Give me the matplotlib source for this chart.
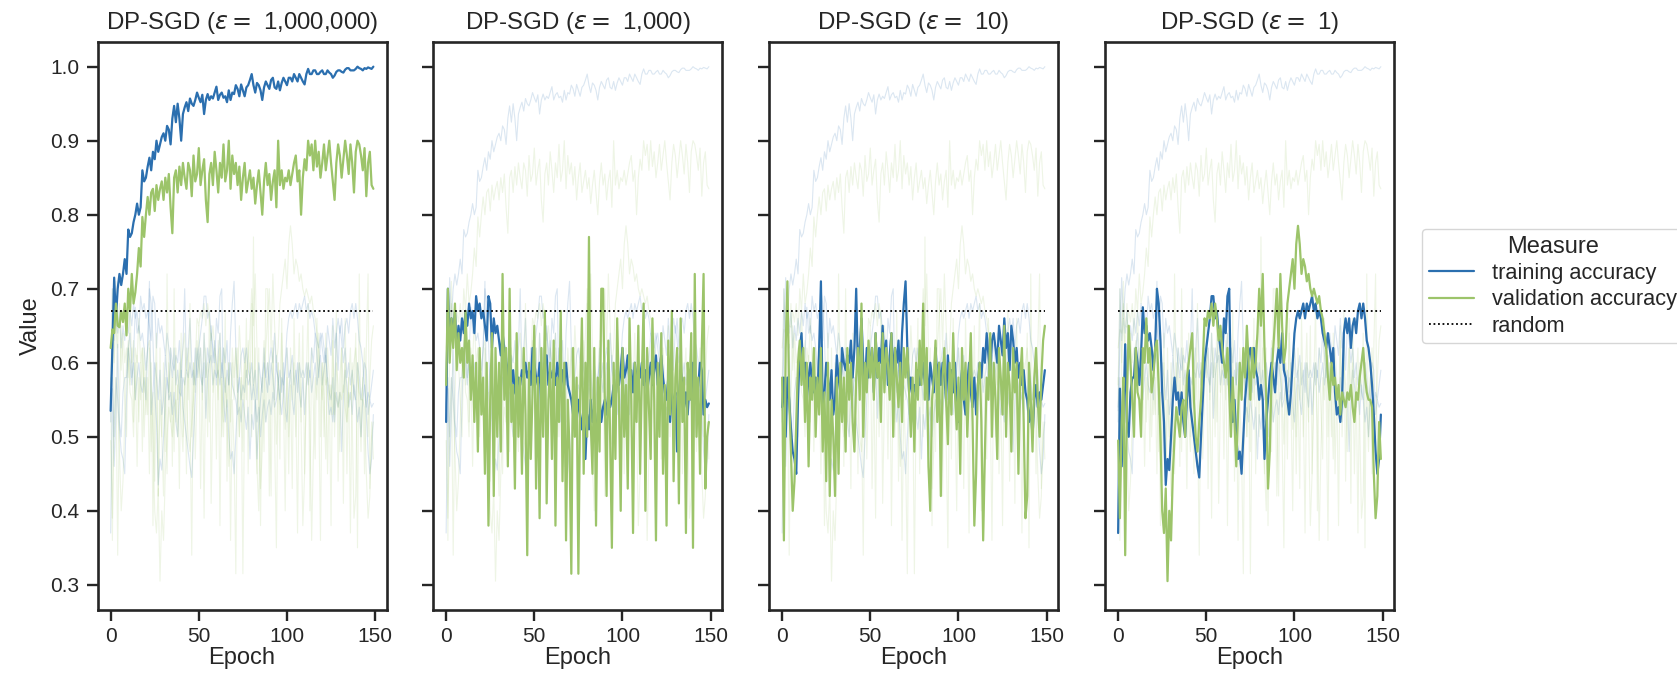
import numpy as np
import matplotlib
matplotlib.use("Agg")
import matplotlib.pyplot as plt
import seaborn as sns
from matplotlib.lines import Line2D

# ============================
# Data
# ============================
epsilons = ["1,000,000", "1,000", "10", "1"]
random_level = 0.67

train_1e6 = [
    0.535, 0.62, 0.715, 0.66, 0.70, 0.72, 0.705, 0.72, 0.74, 0.72,
    0.78, 0.77, 0.775, 0.79, 0.80, 0.815, 0.80, 0.81, 0.86, 0.845,
    0.85, 0.865, 0.877, 0.86, 0.885, 0.875, 0.90, 0.885, 0.895, 0.905,
    0.91, 0.90, 0.92, 0.915, 0.895, 0.93, 0.947, 0.925, 0.95, 0.93,
    0.90, 0.936, 0.945, 0.952, 0.94, 0.957, 0.95, 0.947, 0.955, 0.965,
    0.958, 0.952, 0.962, 0.936, 0.955, 0.963, 0.955, 0.96, 0.957, 0.965,
    0.973, 0.955, 0.962, 0.965, 0.958, 0.96, 0.952, 0.968, 0.955, 0.965,
    0.963, 0.975, 0.97, 0.96, 0.976, 0.968, 0.96, 0.972, 0.975, 0.982,
    0.99, 0.975, 0.965, 0.978, 0.975, 0.968, 0.955, 0.972, 0.98, 0.975,
    0.97, 0.982, 0.985, 0.972, 0.97, 0.98, 0.968, 0.978, 0.985, 0.98,
    0.975, 0.985, 0.985, 0.98, 0.99, 0.985, 0.98, 0.99, 0.985, 0.98,
    0.976, 0.99, 0.997, 0.99, 0.99, 0.995, 0.995, 0.99, 0.99, 0.993,
    0.995, 0.99, 0.99, 0.995, 0.992, 0.99, 0.985, 0.988, 0.993, 0.995,
    0.995, 0.993, 0.992, 0.996, 0.998, 0.998, 0.995, 0.995, 0.995, 0.997,
    1.0, 0.998, 0.997, 0.995, 0.998, 0.997, 0.999, 0.998, 0.997, 1.0,
]
val_1e6 = [
    0.62, 0.645, 0.64, 0.68, 0.65, 0.648, 0.67, 0.655, 0.68, 0.637,
    0.70, 0.67, 0.72, 0.68, 0.695, 0.72, 0.755, 0.73, 0.797, 0.77,
    0.80, 0.824, 0.80, 0.83, 0.835, 0.805, 0.84, 0.82, 0.835, 0.845,
    0.82, 0.85, 0.83, 0.855, 0.81, 0.775, 0.85, 0.86, 0.83, 0.865,
    0.84, 0.87, 0.85, 0.835, 0.87, 0.86, 0.825, 0.88, 0.845, 0.855,
    0.89, 0.84, 0.86, 0.875, 0.82, 0.79, 0.855, 0.87, 0.84, 0.885,
    0.86, 0.83, 0.87, 0.85, 0.895, 0.845, 0.86, 0.90, 0.835, 0.88,
    0.855, 0.87, 0.84, 0.865, 0.82, 0.85, 0.87, 0.83, 0.845, 0.86,
    0.835, 0.85, 0.815, 0.84, 0.86, 0.83, 0.80, 0.845, 0.87, 0.84,
    0.855, 0.82, 0.845, 0.86, 0.81, 0.90, 0.84, 0.86, 0.835, 0.85,
    0.845, 0.86, 0.84, 0.855, 0.87, 0.88, 0.845, 0.86, 0.80, 0.85,
    0.875, 0.86, 0.90, 0.88, 0.895, 0.86, 0.90, 0.865, 0.885, 0.85,
    0.87, 0.895, 0.86, 0.88, 0.90, 0.87, 0.845, 0.82, 0.87, 0.895,
    0.88, 0.85, 0.875, 0.90, 0.88, 0.855, 0.895, 0.87, 0.83, 0.885,
    0.90, 0.895, 0.88, 0.86, 0.89, 0.825, 0.87, 0.885, 0.84, 0.835,
]
train_1000 = [
    0.52, 0.70, 0.63, 0.66, 0.64, 0.67, 0.62, 0.65, 0.63, 0.66,
    0.64, 0.67, 0.65, 0.68, 0.66, 0.67, 0.64, 0.69, 0.67, 0.68,
    0.66, 0.67, 0.65, 0.63, 0.69, 0.68, 0.62, 0.66, 0.64, 0.65,
    0.63, 0.61, 0.64, 0.62, 0.60, 0.58, 0.62, 0.57, 0.59, 0.56,
    0.555, 0.58, 0.57, 0.59, 0.58, 0.60, 0.58, 0.59, 0.57, 0.62,
    0.60, 0.58, 0.57, 0.60, 0.525, 0.58, 0.60, 0.61, 0.57, 0.59,
    0.58, 0.59, 0.57, 0.60, 0.58, 0.56, 0.59, 0.57, 0.60, 0.57,
    0.56, 0.55, 0.53, 0.54, 0.52, 0.55, 0.53, 0.51, 0.54, 0.47,
    0.53, 0.51, 0.55, 0.52, 0.54, 0.50, 0.53, 0.55, 0.52, 0.54,
    0.55, 0.53, 0.56, 0.54, 0.55, 0.57, 0.55, 0.58, 0.57, 0.59,
    0.62, 0.58, 0.59, 0.61, 0.57, 0.59, 0.56, 0.60, 0.58, 0.59,
    0.58, 0.60, 0.57, 0.59, 0.56, 0.58, 0.60, 0.57, 0.59, 0.61,
    0.57, 0.59, 0.61, 0.58, 0.56, 0.55, 0.58, 0.52, 0.56, 0.54,
    0.56, 0.48, 0.55, 0.59, 0.57, 0.54, 0.56, 0.53, 0.57, 0.55,
    0.60, 0.58, 0.55, 0.57, 0.60, 0.59, 0.53, 0.55, 0.54, 0.545,
]
val_1000 = [
    0.57, 0.70, 0.60, 0.66, 0.62, 0.68, 0.59, 0.64, 0.60, 0.62,
    0.58, 0.67, 0.60, 0.63, 0.55, 0.61, 0.52, 0.60, 0.48, 0.62,
    0.53, 0.58, 0.45, 0.60, 0.38, 0.55, 0.64, 0.42, 0.62, 0.50,
    0.60, 0.48, 0.72, 0.55, 0.62, 0.46, 0.70, 0.52, 0.57, 0.43,
    0.64, 0.50, 0.58, 0.45, 0.62, 0.53, 0.34, 0.60, 0.47, 0.56,
    0.65, 0.43, 0.58, 0.39, 0.62, 0.50, 0.67, 0.41, 0.55, 0.60,
    0.47, 0.63, 0.38, 0.58, 0.52, 0.67, 0.44, 0.60, 0.36, 0.55,
    0.48, 0.315, 0.62, 0.50, 0.58, 0.315, 0.55, 0.66, 0.45, 0.60,
    0.50, 0.77, 0.52, 0.45, 0.62, 0.38, 0.58, 0.48, 0.70, 0.70,
    0.55, 0.42, 0.63, 0.50, 0.35, 0.60, 0.47, 0.66, 0.55, 0.40,
    0.62, 0.50, 0.57, 0.43, 0.66, 0.55, 0.37, 0.60, 0.52, 0.65,
    0.45, 0.58, 0.68, 0.40, 0.62, 0.54, 0.47, 0.66, 0.55, 0.36,
    0.60, 0.50, 0.64, 0.45, 0.57, 0.38, 0.63, 0.53, 0.67, 0.44,
    0.58, 0.62, 0.41, 0.66, 0.52, 0.58, 0.37, 0.60, 0.55, 0.64,
    0.35, 0.72, 0.50, 0.58, 0.45, 0.62, 0.72, 0.43, 0.50, 0.52,
]
train_10 = [
    0.54, 0.58, 0.50, 0.58, 0.55, 0.51, 0.48, 0.47, 0.45, 0.55,
    0.62, 0.64, 0.58, 0.60, 0.55, 0.58, 0.60, 0.57, 0.56, 0.58,
    0.55, 0.62, 0.71, 0.53, 0.56, 0.60, 0.58, 0.55, 0.59, 0.53,
    0.55, 0.61, 0.58, 0.56, 0.62, 0.60, 0.59, 0.61, 0.60, 0.63,
    0.58, 0.62, 0.70, 0.59, 0.62, 0.66, 0.60, 0.57, 0.62, 0.58,
    0.60, 0.62, 0.56, 0.64, 0.58, 0.62, 0.60, 0.65, 0.60, 0.63,
    0.57, 0.61, 0.64, 0.58, 0.62, 0.60, 0.63, 0.57, 0.64, 0.68,
    0.71, 0.62, 0.56, 0.58, 0.55, 0.57, 0.56, 0.59, 0.57, 0.58,
    0.60, 0.57, 0.59, 0.55, 0.60, 0.58, 0.56, 0.62, 0.58, 0.60,
    0.57, 0.60, 0.58, 0.55, 0.61, 0.57, 0.59, 0.56, 0.60, 0.54,
    0.52, 0.56, 0.59, 0.55, 0.53, 0.57, 0.60, 0.56, 0.54, 0.58,
    0.53, 0.57, 0.60, 0.58, 0.62, 0.60, 0.64, 0.61, 0.58, 0.63,
    0.64, 0.62, 0.60, 0.65, 0.63, 0.61, 0.66, 0.62, 0.64, 0.59,
    0.65, 0.63, 0.60, 0.62, 0.58, 0.60, 0.57, 0.59, 0.56, 0.55,
    0.52, 0.54, 0.50, 0.55, 0.57, 0.54, 0.56, 0.55, 0.57, 0.59,
]
val_10 = [
    0.58, 0.36, 0.62, 0.71, 0.55, 0.48, 0.40, 0.44, 0.52, 0.60,
    0.63, 0.57, 0.62, 0.52, 0.60, 0.46, 0.58, 0.55, 0.62, 0.50,
    0.58, 0.53, 0.62, 0.48, 0.56, 0.44, 0.60, 0.42, 0.55, 0.50,
    0.42, 0.58, 0.45, 0.60, 0.52, 0.58, 0.48, 0.62, 0.55, 0.60,
    0.52, 0.48, 0.58, 0.62, 0.55, 0.68, 0.50, 0.60, 0.56, 0.63,
    0.58, 0.62, 0.55, 0.64, 0.58, 0.60, 0.52, 0.64, 0.56, 0.62,
    0.60, 0.55, 0.64, 0.50, 0.62, 0.58, 0.54, 0.60, 0.52, 0.62,
    0.58, 0.62, 0.56, 0.50, 0.58, 0.48, 0.60, 0.55, 0.63, 0.57,
    0.68, 0.55, 0.62, 0.46, 0.40, 0.55, 0.58, 0.63, 0.52, 0.60,
    0.42, 0.58, 0.62, 0.55, 0.49, 0.60, 0.53, 0.64, 0.56, 0.51,
    0.58, 0.45, 0.62, 0.55, 0.60, 0.50, 0.57, 0.64, 0.52, 0.38,
    0.45, 0.57, 0.60, 0.52, 0.36, 0.48, 0.58, 0.55, 0.64, 0.50,
    0.60, 0.55, 0.47, 0.62, 0.58, 0.53, 0.65, 0.50, 0.60, 0.57,
    0.48, 0.62, 0.56, 0.60, 0.45, 0.58, 0.62, 0.52, 0.39, 0.42,
    0.60, 0.55, 0.48, 0.58, 0.62, 0.55, 0.50, 0.58, 0.63, 0.65,
]
train_1 = [
    0.37, 0.565, 0.46, 0.53, 0.625, 0.52, 0.50, 0.56, 0.58, 0.58,
    0.62, 0.60, 0.57, 0.61, 0.675, 0.64, 0.65, 0.63, 0.64, 0.62,
    0.59, 0.62, 0.70, 0.68, 0.63, 0.56, 0.52, 0.435, 0.47, 0.455,
    0.50, 0.55, 0.58, 0.55, 0.56, 0.53, 0.56, 0.52, 0.50, 0.55,
    0.59, 0.54, 0.52, 0.50, 0.48, 0.46, 0.445, 0.50, 0.55, 0.60,
    0.62, 0.64, 0.66, 0.69, 0.69, 0.66, 0.67, 0.64, 0.62, 0.60,
    0.66, 0.64, 0.69, 0.70, 0.55, 0.52, 0.55, 0.50, 0.47, 0.48,
    0.45, 0.50, 0.55, 0.58, 0.61, 0.62, 0.60, 0.62, 0.59, 0.58,
    0.55, 0.57, 0.55, 0.47, 0.52, 0.55, 0.58, 0.60, 0.58, 0.56,
    0.60, 0.62, 0.60, 0.64, 0.59, 0.58, 0.55, 0.53, 0.56, 0.60,
    0.64, 0.66, 0.67, 0.66, 0.67, 0.68, 0.66, 0.68, 0.67, 0.68,
    0.69, 0.67, 0.68, 0.66, 0.67, 0.66, 0.64, 0.63, 0.62, 0.64,
    0.62, 0.60, 0.62, 0.56, 0.53, 0.54, 0.52, 0.55, 0.64, 0.66,
    0.64, 0.66, 0.62, 0.65, 0.66, 0.64, 0.67, 0.68, 0.66, 0.68,
    0.66, 0.63, 0.62, 0.60, 0.57, 0.53, 0.48, 0.45, 0.47, 0.53,
]
val_1 = [
    0.495, 0.39, 0.52, 0.58, 0.34, 0.55, 0.65, 0.60, 0.55, 0.50,
    0.62, 0.56, 0.55, 0.50, 0.62, 0.60, 0.66, 0.60, 0.62, 0.56,
    0.58, 0.62, 0.63, 0.57, 0.50, 0.40, 0.37, 0.43, 0.305, 0.40,
    0.36, 0.45, 0.50, 0.54, 0.52, 0.50, 0.54, 0.55, 0.50, 0.58,
    0.60, 0.62, 0.64, 0.55, 0.50, 0.48, 0.52, 0.55, 0.60, 0.66,
    0.65, 0.67, 0.66, 0.68, 0.65, 0.68, 0.66, 0.63, 0.65, 0.62,
    0.60, 0.58, 0.62, 0.56, 0.50, 0.58, 0.52, 0.46, 0.53, 0.60,
    0.55, 0.62, 0.58, 0.65, 0.60, 0.55, 0.62, 0.58, 0.60, 0.64,
    0.70, 0.65, 0.72, 0.62, 0.55, 0.43, 0.48, 0.58, 0.62, 0.66,
    0.70, 0.62, 0.72, 0.65, 0.60, 0.62, 0.68, 0.70, 0.72, 0.74,
    0.70, 0.76, 0.785, 0.76, 0.72, 0.74, 0.73, 0.71, 0.72, 0.70,
    0.69, 0.70, 0.69, 0.68, 0.69, 0.67, 0.66, 0.64, 0.62, 0.58,
    0.55, 0.60, 0.57, 0.58, 0.55, 0.57, 0.53, 0.56, 0.55, 0.54,
    0.56, 0.55, 0.57, 0.54, 0.52, 0.56, 0.55, 0.58, 0.60, 0.62,
    0.58, 0.56, 0.55, 0.55, 0.54, 0.45, 0.39, 0.42, 0.52, 0.47,
]

train_runs = [train_1e6, train_1000, train_10, train_1]
val_runs = [val_1e6, val_1000, val_10, val_1]

# ============================
# Style
# ============================
sns.set_theme(style="ticks")
plt.rcParams["font.family"] = ["Liberation Sans", "DejaVu Sans"]
plt.rcParams["mathtext.fontset"] = "dejavusans"
plt.rcParams["text.color"] = "#262626"

C_TRAIN = "#2b6faf"
C_VAL = "#9cc46a"
DOTS = (0, (1, 1.5))
INK = "#262626"

fig = plt.figure(figsize=(16.77, 6.79), dpi=100)

# axes boxes in pixels of the 1677x679 canvas
ax_w = 289 / 1677
ax_h = (610 - 41.5) / 679
ax_b = 1 - 610 / 679
lefts = [97.5 / 1677, 433 / 1677, 769 / 1677, 1105 / 1677]

axes = []
for left in lefts:
    ax = fig.add_axes([left, ax_b, ax_w, ax_h], sharey=axes[0] if axes else None)
    axes.append(ax)

for i, ax in enumerate(axes):
    # faint background: every run
    for tr, va in zip(train_runs, val_runs):
        ax.plot(np.arange(len(tr)), tr, color=C_TRAIN, lw=0.8, alpha=0.17)
        ax.plot(np.arange(len(va)), va, color=C_VAL, lw=0.8, alpha=0.17)
    tr = train_runs[i]
    va = val_runs[i]
    ax.plot(np.arange(len(tr)), tr, color=C_TRAIN, lw=1.6, zorder=3)
    ax.plot(np.arange(len(va)), va, color=C_VAL, lw=1.6, zorder=3)
    ax.plot([0, len(tr) - 1], [random_level, random_level], color="black",
            lw=1.3, ls=DOTS, zorder=4)

    ax.set_xlim(-7.45, 156.45)
    ax.set_ylim(0.266, 1.034)
    ax.set_xticks([0, 50, 100, 150])
    ax.set_yticks([0.3, 0.4, 0.5, 0.6, 0.7, 0.8, 0.9, 1.0])
    ax.tick_params(labelsize=15, length=8, width=1.7, color=INK,
                   labelcolor=INK)
    ax.tick_params(axis="y", pad=5)
    ax.tick_params(axis="x", pad=4)
    for sp in ax.spines.values():
        sp.set_linewidth(1.9)
        sp.set_color(INK)
    ax.set_title(f"DP-SGD ($\\epsilon = $ {epsilons[i]})", fontsize=17.3, pad=9)
    ax.set_xlabel("Epoch", fontsize=17, labelpad=1)
    if i == 0:
        ax.set_ylabel("Value", fontsize=17, labelpad=6)
    else:
        ax.tick_params(labelleft=False)

handles = [
    Line2D([], [], color=C_TRAIN, lw=1.6),
    Line2D([], [], color=C_VAL, lw=1.6),
    Line2D([], [], color="black", lw=1.3, ls=DOTS),
]
labels = ["training accuracy", "validation accuracy", "random"]
fig.legend(handles, labels, title="Measure", loc="upper left",
           bbox_to_anchor=(1422 / 1677, 1 - 229 / 679), fontsize=15.7,
           title_fontsize=17, frameon=True, handlelength=2.1,
           borderpad=0.3, borderaxespad=0, labelspacing=0.25,
           handletextpad=0.8)

fig.savefig("out.png", dpi=100)
